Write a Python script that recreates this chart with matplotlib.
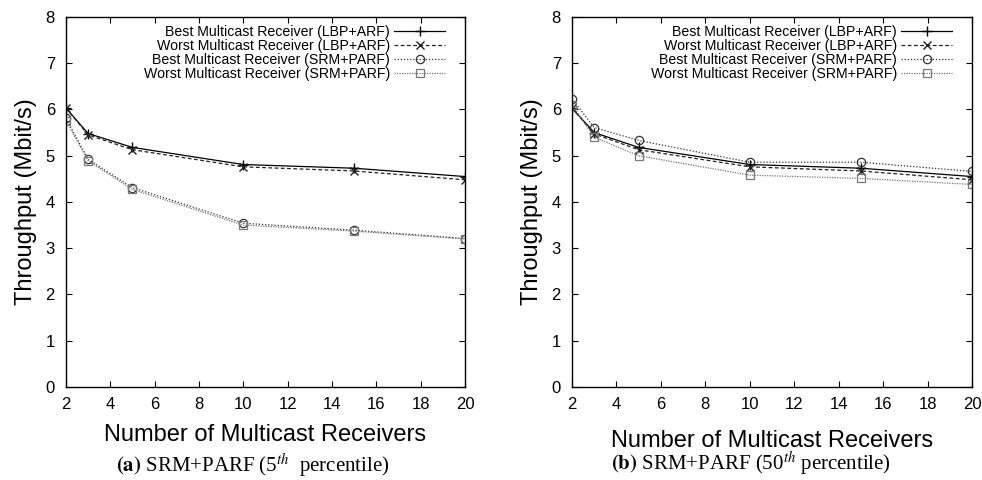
import numpy as np
import matplotlib
matplotlib.use("Agg")
import matplotlib.pyplot as plt

plt.rcParams['font.family'] = ['Liberation Sans', 'DejaVu Sans']
plt.rcParams['mathtext.fontset'] = 'stix'

receivers = [2, 3, 5, 10, 15, 20]
labels = ["Best Multicast Receiver (LBP+ARF)",
          "Worst Multicast Receiver (LBP+ARF)",
          "Best Multicast Receiver (SRM+PARF)",
          "Worst Multicast Receiver (SRM+PARF)"]

# (a) 5th percentile
p5_best_lbp = [6.03, 5.48, 5.18, 4.81, 4.73, 4.55]
p5_worst_lbp = [6.03, 5.45, 5.13, 4.76, 4.67, 4.48]
p5_best_srm = [5.81, 4.92, 4.31, 3.54, 3.39, 3.21]
p5_worst_srm = [5.76, 4.89, 4.27, 3.50, 3.37, 3.20]

# (b) 50th percentile
p50_best_lbp = [6.03, 5.50, 5.18, 4.81, 4.73, 4.55]
p50_worst_lbp = [6.03, 5.47, 5.13, 4.76, 4.67, 4.48]
p50_best_srm = [6.23, 5.61, 5.33, 4.86, 4.86, 4.66]
p50_worst_srm = [6.10, 5.40, 5.00, 4.58, 4.51, 4.38]

styles = [dict(color='black', ls='-', marker='+', ms=7, mew=1.0),
          dict(color='#222222', ls=(0, (3, 2)), marker='x', ms=6, mew=1.0),
          dict(color='#333333', ls=(0, (1, 1.5)), marker='o', ms=6, mfc='none', mew=0.9),
          dict(color='#777777', ls=(0, (1, 1)), marker='s', ms=6, mfc='none', mew=0.9)]

fig = plt.figure(figsize=(9.82, 4.8), dpi=100)
ax1 = fig.add_axes([0.0672, 0.1938, 0.4063, 0.7708])
ax2 = fig.add_axes([0.5825, 0.1938, 0.4073, 0.7708])

panels = [(ax1, [p5_best_lbp, p5_worst_lbp, p5_best_srm, p5_worst_srm], 9),
          (ax2, [p50_best_lbp, p50_worst_lbp, p50_best_srm, p50_worst_srm], 13)]

for ax, series, xpad in panels:
    for vals, lab, st in zip(series, labels, styles):
        ax.plot(receivers, vals, lw=0.9, label=lab, **st)
    ax.set_xlim(2, 20)
    ax.set_ylim(0, 8)
    ax.set_xticks(np.arange(2, 21, 2))
    ax.set_yticks(np.arange(0, 9, 1))
    ax.tick_params(direction='in', top=True, right=True, labelsize=12, length=4)
    ax.tick_params(axis='x', pad=7)
    ax.tick_params(axis='y', pad=8)
    for sp in ax.spines.values():
        sp.set_linewidth(1.0)
    ax.set_xlabel("Number of Multicast Receivers", fontsize=17, labelpad=xpad)
    ax.set_ylabel("Throughput (Mbit/s)", fontsize=17, labelpad=6)
    ax.legend(loc='upper right', bbox_to_anchor=(0.965, 0.995), frameon=False,
              markerfirst=False, fontsize=10.2, handlelength=3.6,
              handletextpad=0.3, labelspacing=0.0, borderaxespad=0.0)

fig.text(0.257, 0.016, r"$\mathbf{(a)}$ SRM+PARF (5$^{th}$  percentile)",
         ha='center', fontsize=15, family='Liberation Serif')
fig.text(0.765, 0.02, r"$\mathbf{(b)}$ SRM+PARF (50$^{th}$ percentile)",
         ha='center', fontsize=15, family='Liberation Serif')

plt.savefig("out.png", dpi=100)
